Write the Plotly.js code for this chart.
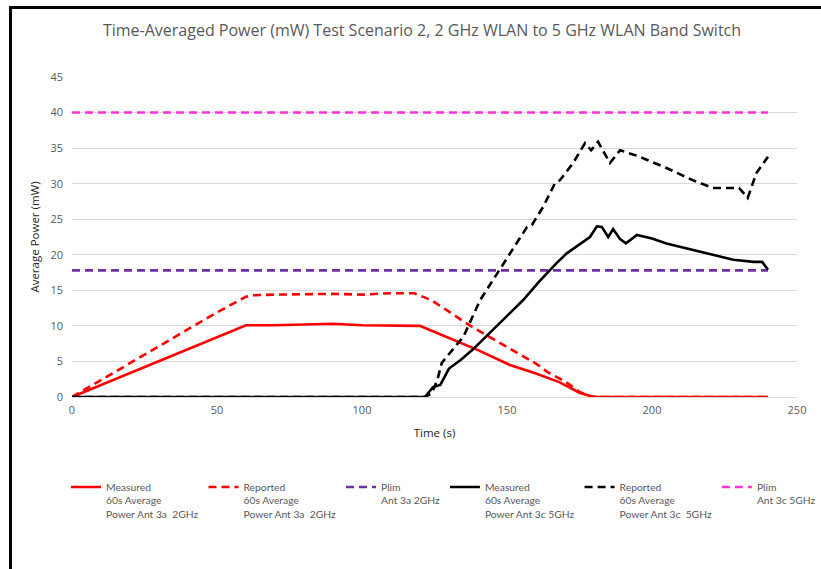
<!DOCTYPE html>
<html>
<head>
<meta charset="utf-8">
<script src="https://cdn.plot.ly/plotly-3.0.1.min.js"></script>
<style>
  html, body { margin: 0; padding: 0; background: #ffffff; width: 821px; height: 569px; overflow: hidden; }
  #frame { position: absolute; left: 9px; top: 6px; width: 812px; height: 563px; box-sizing: border-box;
           border-top: 3px solid #000; border-left: 3px solid #000; }
  #chart { position: absolute; left: 0; top: 0; width: 821px; height: 569px; }
</style>
</head>
<body>
<div id="frame"></div>
<div id="chart"></div>
<script>
// Measured 60s average power, Ant 3a 2GHz
const tMeas2 = [0,10,20,30,40,50,60,70,80,90,100,110,118,120,123,130,140,151,160,168,175,179,181,200,220,240];
const vMeas2 = [0,1.7,3.4,5.1,6.8,8.4,10.1,10.1,10.2,10.3,10.1,10.1,10.1,10.0,9.5,8.3,6.6,4.5,3.3,2.1,0.6,0.1,0,0,0,0];

// Reported 60s average power, Ant 3a 2GHz
const tRep2 = [0,10,20,30,40,50,60,62,70,80,90,100,110,118,120,124,130,137,145,152,160,164,170,175,178,180,200,220,240];
const vRep2 = [0,2.4,4.8,7.1,9.5,11.9,14.1,14.3,14.4,14.5,14.5,14.4,14.6,14.6,14.3,13.6,12.0,10.1,8.2,6.6,4.7,3.5,2.2,0.7,0.2,0,0,0,0];

// Plim Ant 3a 2GHz
const tPlim2 = [0,240];
const vPlim2 = [17.8,17.8];

// Measured 60s average power, Ant 3c 5GHz
const tMeas5 = [0,60,121.7,124.5,127,130,134,138,144,150,155.5,161,167,170.6,175,178.6,181,182.7,184.9,186.6,189,191,194.8,200,205,216.6,228,235,238,240];
const vMeas5 = [0,0,0,1.4,1.7,4.0,5.2,6.6,9.0,11.3,13.6,16.2,18.8,20.2,21.4,22.5,24.0,23.9,22.5,23.6,22.2,21.6,22.8,22.3,21.6,20.4,19.3,19.0,19.0,17.9];

// Reported 60s average power, Ant 3c 5GHz
const tRep5 = [0,60,121.7,124,126,127.5,131,135,140.7,147.6,152,156.9,158.6,162.4,166.6,168.3,172.8,176.9,179,181.4,185.5,189,195,205,214,221,230,233,236,240];
const vRep5 = [0,0,0,0.5,2.4,4.8,6.6,8.5,13.6,17.9,20.8,23.9,24.2,26.7,30.1,30.5,32.9,35.7,34.7,35.9,32.9,34.7,33.9,32.2,30.5,29.4,29.4,28.0,31.5,33.8];

// Plim Ant 3c 5GHz
const tPlim5 = [0,240];
const vPlim5 = [40,40];

const names = [
  "Measured<br>60s Average<br>Power Ant 3a  2GHz",
  "Reported<br>60s Average<br>Power Ant 3a  2GHz",
  "Plim<br>Ant 3a 2GHz",
  "Measured<br>60s Average<br>Power Ant 3c 5GHz",
  "Reported<br>60s Average<br>Power Ant 3c  5GHz",
  "Plim<br>Ant 3c 5GHz"
];

const dashPat = "8px,5px";
const lw = 2.6;
const traces = [
  {x: tMeas2, y: vMeas2, name: names[0], line: {color: "#FF0000", width: lw}},
  {x: tRep2, y: vRep2, name: names[1], line: {color: "#FF0000", width: lw, dash: dashPat}},
  {x: tPlim2, y: vPlim2, name: names[2], line: {color: "#7030A0", width: lw, dash: dashPat}},
  {x: tMeas5, y: vMeas5, name: names[3], line: {color: "#000000", width: lw}},
  {x: tRep5, y: vRep5, name: names[4], line: {color: "#000000", width: lw, dash: dashPat}},
  {x: tPlim5, y: vPlim5, name: names[5], line: {color: "#FF33D6", width: lw, dash: dashPat}}
].map(t => Object.assign({type: "scatter", mode: "lines", hoverinfo: "skip"}, t));

const fontFam = "'Open Sans', 'Noto Sans', sans-serif";
const layout = {
  width: 821, height: 569,
  margin: {l: 72, r: 24, t: 77, b: 172, pad: 0},
  paper_bgcolor: "rgba(0,0,0,0)",
  plot_bgcolor: "rgba(0,0,0,0)",
  font: {family: fontFam, color: "#595959", size: 11},
  title: {text: "Time-Averaged Power (mW) Test Scenario 2, 2 GHz WLAN to 5 GHz WLAN Band Switch",
          font: {family: fontFam, size: 16, color: "#595959"}, x: 0.514, xanchor: "center", y: 0.947, yanchor: "middle"},
  xaxis: {range: [0, 250], dtick: 50, tick0: 0, showgrid: false, zeroline: false,
          showline: true, linecolor: "#D9D9D9", linewidth: 1, ticks: "", ticklen: 0, ticklabelstandoff: 3,
          tickfont: {size: 11, color: "#595959"},
          title: {text: "Time (s)", font: {size: 11.5, color: "#262626"}, standoff: 12}},
  yaxis: {range: [0, 45], dtick: 5, tick0: 0, showgrid: true, gridcolor: "#D9D9D9", gridwidth: 1,
          zeroline: false, showline: false, ticks: "", ticklabelstandoff: 8,
          tickfont: {size: 11, color: "#595959"},
          title: {text: "Average Power (mW)", font: {size: 11.5, color: "#262626"}, standoff: 8}},
  showlegend: true,
  legend: {orientation: "h", x: -0.003, xanchor: "left", y: -0.24, yanchor: "top",
           valign: "top", traceorder: "normal", itemgap: 0,
           font: {family: "Lato, 'Open Sans', sans-serif", size: 10.3, color: "#595959"},
           itemwidth: 30, bgcolor: "rgba(0,0,0,0)"}
};

Plotly.newPlot("chart", traces, layout, {staticPlot: true, displayModeBar: false});
</script>
</body>
</html>
